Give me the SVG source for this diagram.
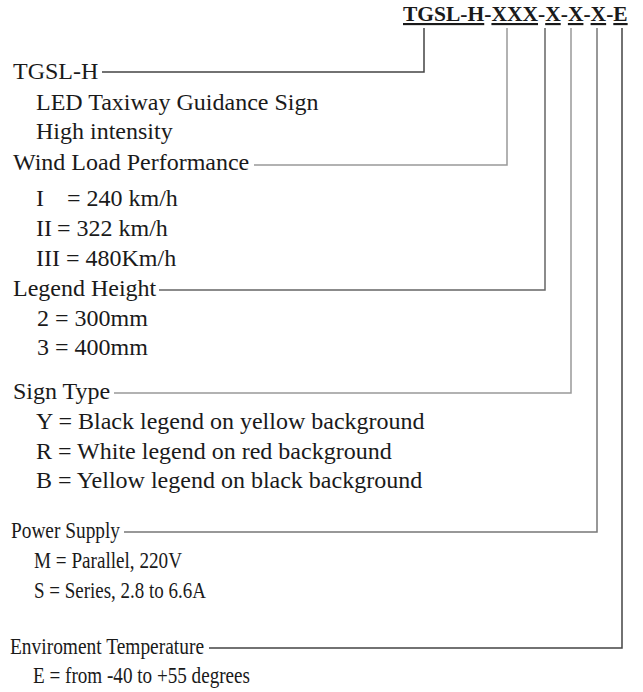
<svg xmlns="http://www.w3.org/2000/svg" width="643" height="692" viewBox="0 0 643 692">
<style>
text{font-family:"Liberation Serif","Times New Roman",serif;fill:#1a1a1a}
.h{font-size:24px}
.t{font-size:21.5px;font-weight:bold}
.u{text-decoration:underline}
.c{fill:none;stroke-width:1.5}
</style>
<rect width="643" height="692" fill="#fff"/>
<g id="title"><text class="t" x="403" y="21"><tspan class="u">TGSL-H</tspan>-<tspan class="u">XXX</tspan>-<tspan class="u">X</tspan>-<tspan class="u">X</tspan>-<tspan class="u">X</tspan>-<tspan class="u">E</tspan></text></g>
<g id="connectors">
<polyline class="c" stroke="#444" points="102,72 424,72 424,28"/>
<polyline class="c" stroke="#999" points="254,165 507,165 507,28"/>
<polyline class="c" stroke="#666" points="159,290 545,290 545,28"/>
<polyline class="c" stroke="#999" points="114,393 571,393 571,28"/>
<polyline class="c" stroke="#777" points="124,532 597,532 597,28"/>
<polyline class="c" stroke="#444" points="209,648 622,648 622,28"/>
</g>
<g id="tgsl">
<text class="h" x="13" y="79">TGSL-H</text>
<text class="h" x="36" y="110">LED Taxiway Guidance Sign</text>
<text class="h" x="36" y="139">High intensity</text>
</g>
<g id="wind">
<text class="h" x="13" y="170">Wind Load Performance</text>
<text class="h" x="36" y="206">I<tspan x="67">= 240 km/h</tspan></text>
<text class="h" x="36" y="236">II<tspan x="57">= 322 km/h</tspan></text>
<text class="h" x="36" y="266">III = 480Km/h</text>
</g>
<g id="legend">
<text class="h" x="13" y="296">Legend Height</text>
<text class="h" x="37" y="326">2 = 300mm</text>
<text class="h" x="37" y="355">3 = 400mm</text>
</g>
<g id="sign">
<text class="h" x="13" y="399">Sign Type</text>
<text class="h" x="36" y="429">Y = Black legend on yellow background</text>
<text class="h" x="36" y="459">R = White legend on red background</text>
<text class="h" x="36" y="488">B = Yellow legend on black background</text>
</g>
<g id="power">
<text class="h" x="11" y="538" textLength="109" lengthAdjust="spacingAndGlyphs">Power Supply</text>
<text class="h" x="34" y="568" textLength="148" lengthAdjust="spacingAndGlyphs">M = Parallel, 220V</text>
<text class="h" x="34" y="598" textLength="172" lengthAdjust="spacingAndGlyphs">S = Series, 2.8 to 6.6A</text>
</g>
<g id="env">
<text class="h" x="10" y="654" textLength="194" lengthAdjust="spacingAndGlyphs">Enviroment Temperature</text>
<text class="h" x="33" y="683" textLength="217" lengthAdjust="spacingAndGlyphs">E = from -40 to +55 degrees</text>
</g>
</svg>
